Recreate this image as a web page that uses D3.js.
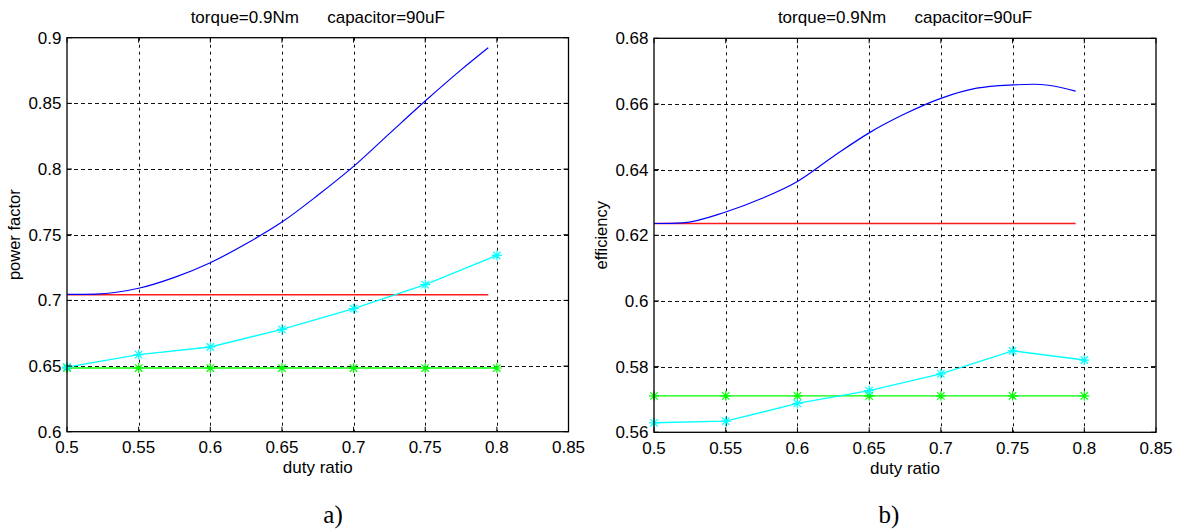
<!DOCTYPE html>
<html>
<head>
<meta charset="utf-8">
<script src="https://cdn.jsdelivr.net/npm/d3@7"></script>
<style>
  html, body { margin: 0; padding: 0; background: #fff; }
  svg { display: block; }
  text { font-family: "Liberation Sans", Arial, sans-serif; fill: #000; }
</style>
</head>
<body>
<svg id="chart" width="1177" height="531"></svg>
<script>
// ---------- data ----------
const titleText = "torque=0.9Nm      capacitor=90uF";
const xLabel = "duty ratio";
const xTicks = [0.5, 0.55, 0.6, 0.65, 0.7, 0.75, 0.8, 0.85];
const xTickLabels = ["0.5", "0.55", "0.6", "0.65", "0.7", "0.75", "0.8", "0.85"];

// markers (measured points)
const dutyPoints = [0.5, 0.55, 0.6, 0.65, 0.7, 0.75, 0.8];

// panel a) power factor
const pfYTicks = [0.6, 0.65, 0.7, 0.75, 0.8, 0.85, 0.9];
const pfYTickLabels = ["0.6", "0.65", "0.7", "0.75", "0.8", "0.85", "0.9"];
const pfCurveX = [0.5, 0.52, 0.55, 0.575, 0.6, 0.625, 0.65, 0.675, 0.7, 0.725, 0.75, 0.775, 0.794];
const pfBlue   = [0.7045, 0.7048, 0.7092, 0.7175, 0.7287, 0.7431, 0.7596, 0.780, 0.802, 0.827, 0.8518, 0.8755, 0.8924];
const pfRedX   = [0.5, 0.794];
const pfRed    = [0.7043, 0.7043];
const pfCyan   = [0.6492, 0.6587, 0.6645, 0.6779, 0.6937, 0.712, 0.7342];
const pfGreen  = [0.6485, 0.6485, 0.6485, 0.6485, 0.6485, 0.6485, 0.6485];

// panel b) efficiency
const effYTicks = [0.56, 0.58, 0.6, 0.62, 0.64, 0.66, 0.68];
const effYTickLabels = ["0.56", "0.58", "0.6", "0.62", "0.64", "0.66", "0.68"];
const effCurveX = [0.5, 0.52, 0.55, 0.575, 0.6, 0.625, 0.65, 0.675, 0.7, 0.725, 0.75, 0.765, 0.775, 0.794];
const effBlue   = [0.6236, 0.6238, 0.6271, 0.6312, 0.6364, 0.644, 0.6512, 0.657, 0.6617, 0.6648, 0.6658, 0.6660, 0.6657, 0.6639];
const effRedX   = [0.5, 0.794];
const effRed    = [0.6236, 0.6236];
const effCyan   = [0.5629, 0.5634, 0.5688, 0.5727, 0.5778, 0.5848, 0.582];
const effGreen  = [0.5711, 0.5711, 0.5711, 0.5711, 0.5711, 0.5711, 0.5711];

// ---------- drawing ----------
const svg = d3.select("#chart");

function panel(opts) {
  const { left, right, top, bottom, yDomain, yTicks, yTickLabels, yLabel, blueX, blue, redX, red, cyan, green, caption, captionX } = opts;
  const x = d3.scaleLinear().domain([0.5, 0.85]).range([left, right]);
  const y = d3.scaleLinear().domain(yDomain).range([bottom, top]);
  const g = svg.append("g");

  // grid
  const grid = g.append("g").attr("stroke", "#111").attr("stroke-width", 1).attr("fill", "none");
  grid.selectAll("line.vx").data(xTicks.slice(1, -1)).join("line")
    .attr("x1", d => Math.round(x(d)) + 0.5).attr("x2", d => Math.round(x(d)) + 0.5)
    .attr("y1", top).attr("y2", bottom)
    .attr("stroke-dasharray", "3,4");
  grid.selectAll("line.hy").data(yTicks.slice(1, -1)).join("line")
    .attr("y1", d => Math.round(y(d)) + 0.5).attr("y2", d => Math.round(y(d)) + 0.5)
    .attr("x1", left).attr("x2", right)
    .attr("stroke-dasharray", "4,3");

  const line = d3.line().x(d => x(d[0])).y(d => y(d[1]));
  const smooth = d3.line().x(d => x(d[0])).y(d => y(d[1])).curve(d3.curveMonotoneX);

  // green
  g.append("path").datum(dutyPoints.map((d, i) => [d, green[i]]))
    .attr("d", line).attr("fill", "none").attr("stroke", "#00ff00").attr("stroke-width", 1.3);
  // red
  g.append("path").datum(redX.map((d, i) => [d, red[i]]))
    .attr("d", line).attr("fill", "none").attr("stroke", "#ff1a1a").attr("stroke-width", 1.6);
  // blue
  g.append("path").datum(blueX.map((d, i) => [d, blue[i]]))
    .attr("d", smooth).attr("fill", "none").attr("stroke", "#0000ff").attr("stroke-width", 1.2);
  // cyan
  g.append("path").datum(dutyPoints.map((d, i) => [d, cyan[i]]))
    .attr("d", line).attr("fill", "none").attr("stroke", "#00ffff").attr("stroke-width", 1.4);

  // star markers
  function star(px, py) {
    const r = 5, q = 3.7;
    return `M${px - r},${py}h${2 * r}M${px},${py - r}v${2 * r}` +
           `M${px - q},${py - q}l${2 * q},${2 * q}M${px - q},${py + q}l${2 * q},${-2 * q}`;
  }
  g.append("g").selectAll("path").data(dutyPoints.map((d, i) => [d, green[i]])).join("path")
    .attr("d", d => star(x(d[0]), y(d[1]))).attr("stroke", "#00ff00").attr("stroke-width", 1.2).attr("fill", "none");
  g.append("g").selectAll("path").data(dutyPoints.map((d, i) => [d, cyan[i]])).join("path")
    .attr("d", d => star(x(d[0]), y(d[1]))).attr("stroke", "#00ffff").attr("stroke-width", 1.2).attr("fill", "none");

  // box
  g.append("rect").attr("x", left).attr("y", top).attr("width", right - left).attr("height", bottom - top)
    .attr("fill", "none").attr("stroke", "#000").attr("stroke-width", 1.3);

  // ticks (inward, all sides)
  const tk = g.append("g").attr("stroke", "#000").attr("stroke-width", 1);
  tk.selectAll("line.xb").data(xTicks).join("line")
    .attr("x1", d => x(d)).attr("x2", d => x(d)).attr("y1", bottom).attr("y2", bottom - 5);
  tk.selectAll("line.xt").data(xTicks).join("line")
    .attr("x1", d => x(d)).attr("x2", d => x(d)).attr("y1", top).attr("y2", top + 5);
  tk.selectAll("line.yl").data(yTicks).join("line")
    .attr("y1", d => y(d)).attr("y2", d => y(d)).attr("x1", left).attr("x2", left + 5);
  tk.selectAll("line.yr").data(yTicks).join("line")
    .attr("y1", d => y(d)).attr("y2", d => y(d)).attr("x1", right).attr("x2", right - 5);

  // tick labels
  g.append("g").selectAll("text").data(xTicks).join("text")
    .attr("x", d => x(d)).attr("y", bottom + 21.5)
    .attr("text-anchor", "middle").attr("font-size", 17)
    .text((d, i) => xTickLabels[i]);
  g.append("g").selectAll("text").data(yTicks).join("text")
    .attr("x", left - 5.5).attr("y", d => y(d) + 6)
    .attr("text-anchor", "end").attr("font-size", 17)
    .text((d, i) => yTickLabels[i]);

  // axis labels
  g.append("text").attr("x", (left + right) / 2).attr("y", bottom + 41.5)
    .attr("text-anchor", "middle").attr("font-size", 17).text(xLabel);
  g.append("text").attr("transform", `translate(${left - 47},${(top + bottom) / 2}) rotate(-90)`)
    .attr("text-anchor", "middle").attr("font-size", 16.5).text(yLabel);

  // title
  g.append("text").attr("x", (left + right) / 2).attr("y", 22.5)
    .attr("text-anchor", "middle").attr("font-size", 17)
    .attr("xml:space", "preserve").style("white-space", "pre")
    .text(titleText);

  // caption
  g.append("text").attr("x", captionX).attr("y", 523)
    .attr("text-anchor", "middle").attr("font-size", 25)
    .style("font-family", "'Liberation Serif', 'Times New Roman', serif")
    .text(caption);
}

panel({ left: 67, right: 568.5, top: 37.7, bottom: 431.7, yDomain: [0.6, 0.9],
  yTicks: pfYTicks, yTickLabels: pfYTickLabels, yLabel: "power factor",
  blueX: pfCurveX, blue: pfBlue, redX: pfRedX, red: pfRed, cyan: pfCyan, green: pfGreen,
  caption: "a)", captionX: 333 });

panel({ left: 654, right: 1156, top: 38.3, bottom: 432.3, yDomain: [0.56, 0.68],
  yTicks: effYTicks, yTickLabels: effYTickLabels, yLabel: "efficiency",
  blueX: effCurveX, blue: effBlue, redX: effRedX, red: effRed, cyan: effCyan, green: effGreen,
  caption: "b)", captionX: 889 });
</script>
</body>
</html>
